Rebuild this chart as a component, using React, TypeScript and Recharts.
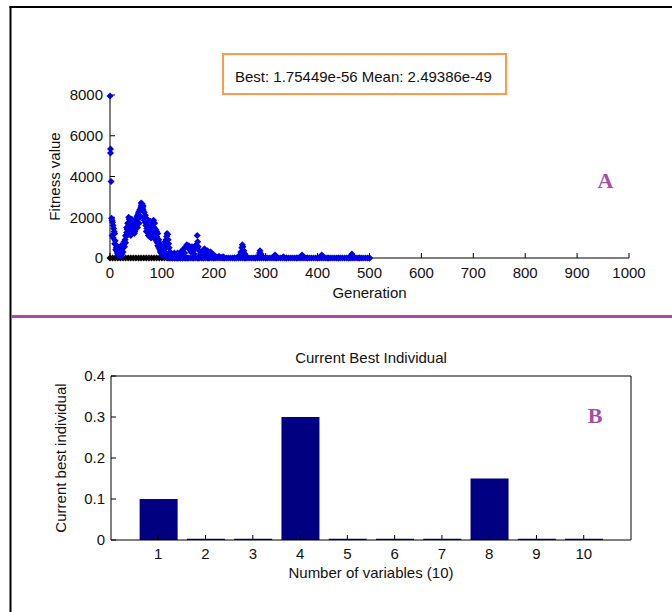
import { ScatterChart, Scatter, BarChart, Bar, XAxis, YAxis } from "recharts";

const generationTicks = [0, 100, 200, 300, 400, 500, 600, 700, 800, 900, 1000];
const fitnessTicks = [0, 2000, 4000, 6000, 8000];

// [generation, mean fitness]
const meanFitness: [number, number][] = [
  [0, 7950], [1, 5350], [1, 5150], [2, 3750], [3, 1950], [4, 1850], [5, 1750], [6, 1600], [7, 1450], [8, 1300],
  [9, 1200], [10, 850], [11, 650], [12, 500], [13, 350], [14, 250], [15, 450], [16, 200], [17, 100], [18, 300],
  [19, 150], [20, 250], [21, 100], [22, 350], [23, 200], [24, 500], [25, 300], [26, 650], [27, 800], [28, 550],
  [29, 900], [30, 750], [31, 1050], [32, 1250], [33, 1400], [34, 1150], [35, 1700], [36, 1550], [37, 1900], [38, 1350],
  [39, 1250], [40, 1800], [41, 1600], [42, 1400], [43, 1300], [44, 1500], [45, 1700], [46, 1450], [47, 1200], [48, 1550],
  [49, 1400], [50, 1650], [51, 1800], [52, 2050], [53, 1900], [54, 2150], [55, 2250], [56, 2100], [57, 2350], [58, 2300],
  [59, 2450], [60, 2550], [61, 2600], [62, 2500], [63, 2450], [64, 2350], [65, 2000], [66, 1850], [67, 1950], [68, 1750],
  [69, 1600], [70, 1700], [71, 1450], [72, 1300], [73, 1550], [74, 1400], [75, 1200], [76, 1050], [77, 1250], [78, 1100],
  [79, 1000], [80, 1350], [81, 1600], [82, 1800], [83, 1700], [84, 1850], [85, 1500], [86, 1300], [87, 1150], [88, 950],
  [89, 850], [90, 1050], [91, 750], [92, 600], [93, 800], [94, 500], [95, 650], [96, 400], [97, 300], [98, 450],
  [99, 250], [100, 150], [101, 350], [102, 100], [103, 200], [104, 450], [105, 600], [106, 800], [107, 700], [108, 900],
  [109, 1050], [110, 1200], [111, 1150], [112, 900], [113, 700], [114, 500], [115, 300], [116, 200], [117, 100], [118, 250],
  [4, 1100], [6, 1000], [9, 700], [11, 400], [13, 600], [15, 150], [17, 500], [19, 400], [21, 600], [23, 450],
  [30, 1100], [32, 1500], [34, 1700], [36, 2000], [38, 1700], [40, 1100], [42, 1900],
  [44, 1250], [46, 1800], [48, 1300], [50, 1900], [53, 1500], [56, 1700], [58, 2000],
  [60, 2700], [62, 2650], [64, 2550], [66, 2250], [68, 2100],
  [70, 1300], [72, 1900], [74, 1100], [76, 1500], [78, 1800], [80, 1000], [82, 1300], [84, 1100], [86, 1700], [88, 1400],
  [90, 1300], [92, 1200], [94, 900], [96, 700], [98, 600], [100, 500],
  [102, 400], [104, 200], [106, 300], [108, 500], [112, 150], [114, 100],
  [122, 100], [124, 250], [128, 150], [130, 250], [132, 100], [134, 200], [136, 300], [138, 100], [140, 350], [142, 450],
  [144, 250], [146, 550], [148, 650], [150, 500], [152, 600], [154, 400], [156, 300], [158, 550], [160, 350], [162, 200],
  [164, 450], [166, 650], [168, 1100], [169, 800], [170, 550], [172, 350], [174, 200], [176, 300], [178, 150], [180, 350],
  [182, 450], [184, 300], [186, 200], [188, 350], [190, 250], [192, 150], [194, 300], [196, 200], [198, 100], [200, 150],
  [202, 100], [206, 50], [210, 80], [214, 40], [218, 60],
  [250, 150], [252, 300], [254, 500], [255, 650], [256, 550], [258, 350], [260, 200], [262, 100],
  [286, 100], [288, 250], [289, 350], [291, 200], [293, 100],
  [316, 100], [318, 150], [320, 80], [334, 60],
  [368, 80], [370, 150], [372, 80],
  [406, 80], [408, 150], [410, 80],
  [464, 100], [466, 200], [468, 100],
  [112, 0], [116, 0], [120, 0], [124, 0], [128, 0], [132, 0], [136, 0], [140, 0], [144, 0], [148, 0],
  [152, 0], [156, 0], [160, 0], [164, 0], [168, 0], [172, 0], [176, 0], [180, 0], [184, 0], [188, 0],
  [192, 0], [196, 0], [200, 0], [204, 0], [208, 0], [212, 0], [216, 0], [220, 0], [224, 0], [228, 0],
  [232, 0], [236, 0], [240, 0], [244, 0], [248, 0], [252, 0], [256, 0], [260, 0], [264, 0], [268, 0],
  [272, 0], [276, 0], [280, 0], [284, 0], [288, 0], [292, 0], [296, 0], [300, 0], [304, 0], [308, 0],
  [312, 0], [316, 0], [320, 0], [324, 0], [328, 0], [332, 0], [336, 0], [340, 0], [344, 0], [348, 0],
  [352, 0], [356, 0], [360, 0], [364, 0], [368, 0], [372, 0], [376, 0], [380, 0], [384, 0], [388, 0],
  [392, 0], [396, 0], [400, 0], [404, 0], [408, 0], [412, 0], [416, 0], [420, 0], [424, 0], [428, 0],
  [432, 0], [436, 0], [440, 0], [444, 0], [448, 0], [452, 0], [456, 0], [460, 0], [464, 0], [468, 0],
  [472, 0], [476, 0], [480, 0], [484, 0], [488, 0], [492, 0], [496, 0], [500, 0],
];

// [generation, best fitness] black markers, all ~0 on this scale
const bestFitness: [number, number][] = [
  [0, 0], [5, 0], [10, 0], [15, 0], [20, 0], [25, 0], [30, 0], [35, 0], [40, 0], [45, 0],
  [50, 0], [55, 0], [60, 0], [65, 0], [70, 0], [75, 0], [80, 0], [85, 0], [90, 0], [95, 0],
  [100, 0], [105, 0], [110, 0], [115, 0], [120, 0], [125, 0], [130, 0], [135, 0], [140, 0], [145, 0],
  [150, 0], [160, 0], [170, 0], [180, 0], [190, 0], [200, 0], [220, 0], [240, 0], [260, 0], [280, 0],
  [300, 0], [320, 0], [340, 0], [360, 0], [380, 0], [400, 0], [420, 0], [440, 0], [460, 0], [480, 0], [500, 0],
];

const variables = [1, 2, 3, 4, 5, 6, 7, 8, 9, 10];
const bestIndividual = [0.1, 0.003, 0.003, 0.3, 0.003, 0.003, 0.003, 0.15, 0.003, 0.003];
const individualTicks = [0, 0.1, 0.2, 0.3, 0.4];

const toPoints = (rows: [number, number][]) => rows.map(([gen, fit]) => ({ gen, fit }));
const barData = variables.map((variable, i) => ({ variable, value: bestIndividual[i] }));

const diamond = (color: string) => (props: any) => {
  const { cx, cy } = props;
  if (cx == null || cy == null) return <g />;
  return <path d={`M${cx},${cy - 3.5}L${cx + 3.5},${cy}L${cx},${cy + 3.5}L${cx - 3.5},${cy}Z`} fill={color} />;
};

const tickStyle = { fill: "#111", fontSize: 15 };
const labelStyle = { fill: "#111", fontSize: 15 };
const purple = "#a64ca6";

export default function App() {
  return (
    <div
      style={{
        position: "absolute",
        left: 0,
        top: 0,
        width: 672,
        height: 612,
        background: "#fff",
        overflow: "hidden",
        fontFamily: "'Liberation Sans', Arial, sans-serif",
      }}
    >
      <div style={{ position: "absolute", left: 0, top: 0 }}>
        <ScatterChart width={672} height={320} margin={{ top: 95, right: 43, bottom: 22, left: 0 }}>
          <XAxis
            type="number"
            dataKey="gen"
            domain={[0, 1000]}
            ticks={generationTicks}
            interval={0}
            height={40}
            tickSize={-5}
            tickMargin={14}
            stroke="#000"
            tick={tickStyle}
            label={{ value: "Generation", position: "insideBottom", offset: 0, ...labelStyle }}
          />
          <YAxis
            type="number"
            dataKey="fit"
            domain={[0, 8000]}
            ticks={fitnessTicks}
            interval={0}
            width={110}
            tickSize={-5}
            tickMargin={12}
            stroke="#000"
            tick={tickStyle}
            label={{ value: "Fitness value", angle: -90, position: "center", ...labelStyle }}
          />
          <Scatter data={toPoints(bestFitness)} shape={diamond("#000")} isAnimationActive={false} />
          <Scatter data={toPoints(meanFitness)} shape={diamond("#0000e6")} isAnimationActive={false} />
        </ScatterChart>
      </div>

      <div style={{ position: "absolute", left: 0, top: 320 }}>
        <BarChart width={672} height={292} data={barData} margin={{ top: 55, right: 40, bottom: 34, left: 11 }}>
          <XAxis
            xAxisId="bottom"
            type="number"
            dataKey="variable"
            domain={[0, 11]}
            ticks={variables}
            interval={0}
            height={38}
            tickSize={-5}
            tickMargin={13}
            stroke="#000"
            tick={tickStyle}
            label={{ value: "Number of variables (10)", position: "insideBottom", offset: 0, ...labelStyle }}
          />
          <XAxis
            xAxisId="top"
            orientation="top"
            type="number"
            dataKey="variable"
            domain={[0, 11]}
            ticks={variables}
            interval={0}
            height={1}
            tickSize={-5}
            stroke="#000"
            tick={false}
            label={{ value: "Current Best Individual", position: "top", offset: 12, ...labelStyle }}
          />
          <YAxis
            yAxisId="left"
            type="number"
            domain={[0, 0.4]}
            ticks={individualTicks}
            interval={0}
            width={100}
            tickSize={-5}
            tickMargin={11}
            stroke="#000"
            tick={tickStyle}
            label={{ value: "Current best individual", angle: -90, position: "center", ...labelStyle }}
          />
          <YAxis
            yAxisId="right"
            orientation="right"
            type="number"
            domain={[0, 0.4]}
            ticks={individualTicks}
            interval={0}
            width={1}
            tickSize={-5}
            stroke="#000"
            tick={false}
          />
          <Bar xAxisId="bottom" yAxisId="left" dataKey="value" fill="#000080" barSize={38} isAnimationActive={false} />
        </BarChart>
      </div>

      <svg width={672} height={612} style={{ position: "absolute", left: 0, top: 0, pointerEvents: "none" }}>
        <line x1={10.5} y1={6} x2={10.5} y2={612} stroke="#000" strokeWidth={2} />
        <line x1={9.5} y1={7} x2={672} y2={7} stroke="#000" strokeWidth={2} />
        <line x1={11} y1={316.5} x2={672} y2={316.5} stroke={purple} strokeWidth={3} />
        <rect x={223} y={54} width={283} height={40} fill="none" stroke="#ff9a4d" strokeWidth={2} />
        <text x={235} y={81.5} fontSize={15} fill="#111">
          Best: 1.75449e-56 Mean: 2.49386e-49
        </text>
        <text x={605.5} y={188} textAnchor="middle" fontFamily="'Liberation Serif', serif" fontWeight="bold" fontSize={22} fill={purple}>
          A
        </text>
        <text x={595} y={423} textAnchor="middle" fontFamily="'Liberation Serif', serif" fontWeight="bold" fontSize={22} fill={purple}>
          B
        </text>
      </svg>
    </div>
  );
}
